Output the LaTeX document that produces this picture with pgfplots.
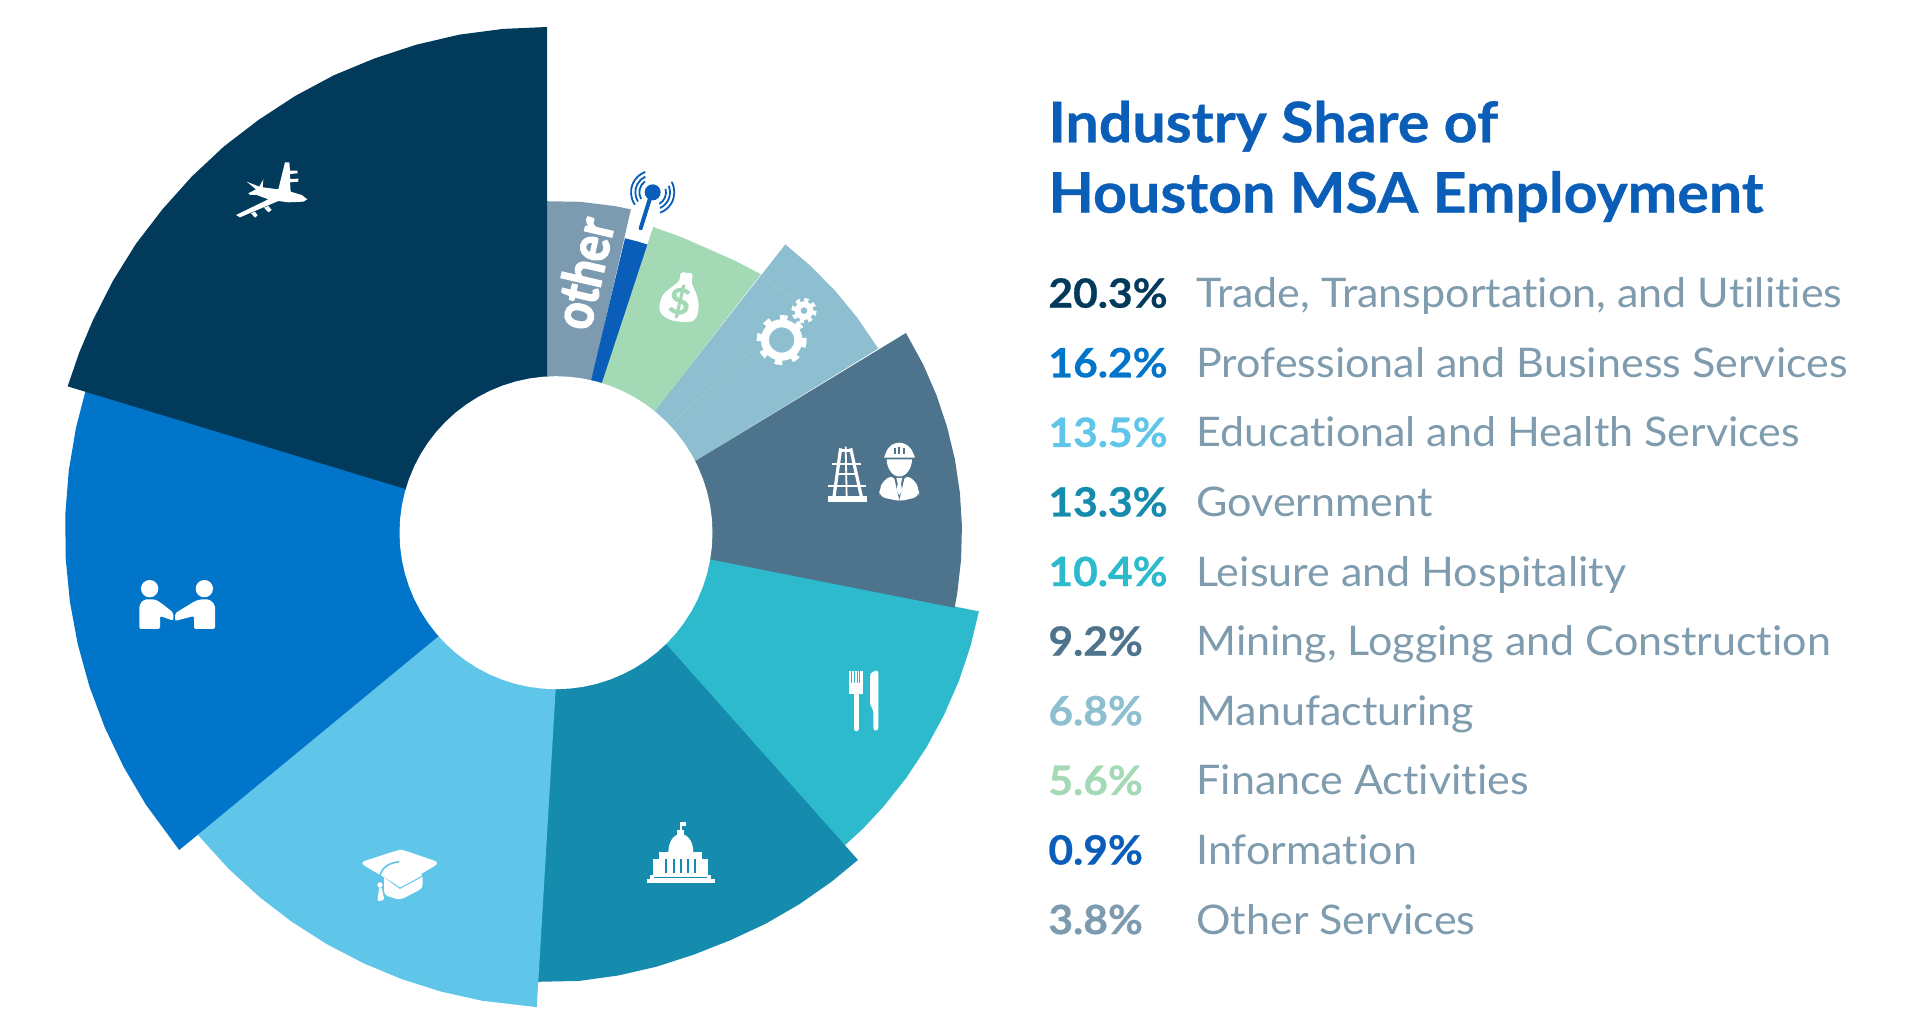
\documentclass[border=0pt]{standalone}
\usepackage{pgfplots}
\pgfplotsset{compat=1.18}
\usepackage{fontspec}
\setmainfont{Lato}[Ligatures=NoCommon,FakeStretch=1.055,BoldFeatures={FakeBold=0.6}]
\newfontfamily\heavyfont{Lato Bold}[FakeBold=3]
\definecolor{cNavy}{HTML}{023A5C}
\definecolor{cBlue}{HTML}{0075C9}
\definecolor{cLight}{HTML}{5FC6EA}
\definecolor{cTeal}{HTML}{158CAE}
\definecolor{cCyan}{HTML}{2EBACD}
\definecolor{cSlate}{HTML}{4D748C}
\definecolor{cMfg}{HTML}{8DBFD0}
\definecolor{cGreen}{HTML}{A3D9B5}
\definecolor{cInfo}{HTML}{0A5EBA}
\definecolor{cOther}{HTML}{7C9BB0}
\definecolor{cTitle}{HTML}{0A5EB8}
\definecolor{cLabel}{HTML}{7F9BAE}
\newcommand\slice[4]{\addplot[fill=#1,draw=none] table[row sep=\\,
  x expr={#2+\thisrow{r}*cos(\thisrow{a})},
  y expr={-#3+\thisrow{r}*sin(\thisrow{a})}] {#4};}
\newcommand\legrow[4]{%
  \node[anchor=base west,inner sep=0pt,text=#2,font=\fontsize{20.2}{24}\selectfont\bfseries] at (1048,#1) {#3};
  \node[anchor=base west,inner sep=0pt,text=cLabel,font=\fontsize{20.4}{24}\selectfont] at (1196,#1) {#4};}
\begin{document}
\begin{tikzpicture}
\useasboundingbox (0,0) rectangle (963.5pt,511.5pt);
\begin{axis}[scale only axis,width=963.5pt,height=511.5pt,hide axis,
  xmin=0,xmax=1927,ymin=-1023,ymax=0,clip=false]
\slice{cOther}{557}{532}{a r\\ 120 30\\ 92 331\\ 86 331\\ 80 331\\ 77.1 331\\ 0 0\\}
\slice{cInfo}{555}{532}{a r\\ 76.6 0\\ 76.6 302\\ 74 302\\ 71.8 302\\}
\slice{cMfg}{541}{556}{a r\\ 51.9 0\\ 51.9 396\\ 47 396\\ 42 396\\ 37 396\\ 31.6 396\\}
\slice{cGreen}{547}{550}{a r\\ 71.8 0\\ 71.8 340\\ 67 340.5\\ 62 341.5\\ 57 345\\ 52.2 349\\}
\slice{cCyan}{563}{529}{a r\\ -11.2 0\\ -11.2 424\\ -16 424\\ -21 424\\ -26 424\\ -31 424\\ -36 424\\ -41 424\\ -45 424\\ -50 424\\}
\slice{cSlate}{577}{533}{a r\\ 31.3 0\\ 31.3 385\\ 26 385\\ 21 385\\ 16 385\\ 11 385\\ 6 385\\ 1 385\\ -4 385\\ -9 385\\ -11.2 385\\}
\slice{cTeal}{548}{531}{a r\\ -43.8 165\\ -46.7 452\\ -51 451\\ -56 450\\ -61 449\\ -66 448\\ -71 448\\ -76 449\\ -81 450\\ -86 451\\ -91.4 451\\ 0 0\\}
\slice{cLight}{565}{532}{a r\\ 219.5 0\\ 219.5 476\\ 225 476\\ 230 476\\ 235 476\\ 240 476\\ 245 476\\ 250 476\\ 255 476\\ 260 476\\ 266.6 476\\}
\slice{cBlue}{565}{532}{a r\\ 163 0\\ 163 500\\ 168 500\\ 173 500\\ 178 500\\ 183 500\\ 188 500\\ 193 500\\ 198 500\\ 203 500\\ 208 500\\ 213 500\\ 219.5 500\\}
\slice{cNavy}{547}{532}{a r\\ 90 0\\ 90 505\\ 95 505\\ 100 505\\ 105 504.5\\ 110 504\\ 115 504\\ 120 503.5\\ 125 503\\ 130 503\\ 135 502.5\\ 140 502\\ 145 502\\ 150 501.5\\ 155 501\\ 159 501\\ 163.1 501\\}
\slice{white}{556}{532.7}{a r\\ 0 156.5\\ 5 156.5\\ 10 156.5\\ 15 156.5\\ 20 156.5\\ 25 156.5\\ 30 156.5\\ 35 156.5\\ 40 156.5\\ 45 156.5\\ 50 156.5\\ 55 156.5\\ 60 156.5\\ 65 156.5\\ 70 156.5\\ 75 156.5\\ 80 156.5\\ 85 156.5\\ 90 156.5\\ 95 156.5\\ 100 156.5\\ 105 156.5\\ 110 156.5\\ 115 156.5\\ 120 156.5\\ 125 156.5\\ 130 156.5\\ 135 156.5\\ 140 156.5\\ 145 156.5\\ 150 156.5\\ 155 156.5\\ 160 156.5\\ 165 156.5\\ 170 156.5\\ 175 156.5\\ 180 156.5\\ 185 156.5\\ 190 156.5\\ 195 156.5\\ 200 156.5\\ 205 156.5\\ 210 156.5\\ 215 156.5\\ 220 156.5\\ 225 156.5\\ 230 156.5\\ 235 156.5\\ 240 156.5\\ 245 156.5\\ 250 156.5\\ 255 156.5\\ 260 156.5\\ 265 156.5\\ 270 156.5\\ 275 156.5\\ 280 156.5\\ 285 156.5\\ 290 156.5\\ 295 156.5\\ 300 156.5\\ 305 156.5\\ 310 156.5\\ 315 156.5\\ 320 156.5\\ 325 156.5\\ 330 156.5\\ 335 156.5\\ 340 156.5\\ 345 156.5\\ 350 156.5\\ 355 156.5\\}
\end{axis}
\begin{scope}[x=0.5pt,y=-0.5pt,yshift=511.5pt]
% title
\node[anchor=base west,inner sep=0pt,text=cTitle,font=\fontsize{28}{30}\selectfont\bfseries] at (1048,142.3) {Industry Share of};
\node[anchor=base west,inner sep=0pt,text=cTitle,font=\fontsize{28}{30}\selectfont\bfseries] at (1048,212.7) {Houston MSA Employment};
% legend
\legrow{307.7}{cNavy}{20.3\%}{Trade, Transportation, and Utilities}
\legrow{377.3}{cBlue}{16.2\%}{Professional and Business Services}
\legrow{446.9}{cLight}{13.5\%}{Educational and Health Services}
\legrow{516.5}{cTeal}{13.3\%}{Government}
\legrow{586.1}{cCyan}{10.4\%}{Leisure and Hospitality}
\legrow{655.7}{cSlate}{9.2\%}{Mining, Logging and Construction}
\legrow{725.3}{cMfg}{6.8\%}{Manufacturing}
\legrow{794.9}{cGreen}{5.6\%}{Finance Activities}
\legrow{864.5}{cInfo}{0.9\%}{Information}
\legrow{934.1}{cOther}{3.8\%}{Other Services}
% other label
\node[rotate=77,text=white,inner sep=0pt,font=\fontsize{27}{30}\heavyfont] at (583,273) {\scalebox{0.86}[1]{other}};
% antenna, gears, bag: crop 1
\begin{scope}[shift={(520,140)},scale=0.33333]
\fill[cInfo] (398,157) circle (24);
\draw[cInfo,line width=2pt,line cap=round] (390,175) -- (362,265);
\draw[cInfo,line width=0.9pt] (398,157) ++(150:40) arc (150:235:40);
\draw[cInfo,line width=0.9pt] (398,157) ++(148:52) arc (148:245:52);
\draw[cInfo,line width=0.9pt] (398,157) ++(145:65) arc (145:250:65);
\draw[cInfo,line width=0.9pt] (398,157) ++(-15:40) arc (-15:60:40);
\draw[cInfo,line width=0.9pt] (398,157) ++(-22:52) arc (-22:65:52);
\draw[cInfo,line width=0.9pt] (398,157) ++(-29:65) arc (-29:70:65);
% money bag
\fill[white,rounded corners=3pt] (478,392) -- (500,402) -- (524,398) -- (510,422) -- (525,450) -- (538,490) -- (530,540) -- (500,548) -- (445,540) -- (415,515) -- (425,465) -- (485,418) -- cycle;
\node[rotate=-8,text=cGreen,inner sep=0pt,font=\fontsize{18}{20}\selectfont\bfseries] at (479,484) {\$};
% gears
\draw[white,line width=4pt] (785,600) circle (50);
\draw[white,line width=3pt,dash pattern=on 3.6pt off 4.9pt] (785,600) circle (66);
\fill[white] (852,512) circle (28);
\fill[cMfg] (852,512) circle (10);
\draw[white,line width=1.7pt,dash pattern=on 2.2pt off 2.1pt] (852,512) circle (33);
% faint lines in the manufacturing slice
\draw[cMfg!85!white,line width=0.3pt] (455,850) -- (705,622);
\draw[cMfg!85!white,line width=0.3pt] (722,405) -- (820,478);
\end{scope}
% airplane: crop 2
\begin{scope}[shift={(200,130)},scale=0.33333]
\fill[white] (145,190) -- (168,178) -- (140,155) -- (178,170) -- (190,148) -- (188,172) -- (235,178) -- (255,97) -- (268,97) -- (270,122) -- (292,122) -- (293,130) -- (270,132) -- (270,147) -- (295,146) -- (295,155) -- (270,157) -- (272,185) -- (305,195) -- (322,208) -- (310,215) -- (265,217) -- (235,213) -- (120,262) -- (108,255) -- (205,208) -- (170,195) -- (150,195) -- cycle;
\fill[white] (192,233) -- (205,228) -- (215,240) -- (205,247) -- cycle;
\fill[white] (153,250) -- (165,245) -- (173,256) -- (165,263) -- cycle;
\end{scope}
% handshake: crop 3
\begin{scope}[shift={(120,560)},scale=0.33333]
\fill[white] (89,86) circle (26);
\fill[white] (253,86) circle (26);
\fill[white,rounded corners=1pt] (58,207) -- (58,135) -- (72,118) -- (105,118) -- (122,128) -- (160,158) -- (160,182) -- (120,168) -- (120,207) -- cycle;
\fill[white,rounded corners=1pt] (285,207) -- (285,135) -- (268,118) -- (240,118) -- (222,125) -- (165,160) -- (165,183) -- (222,168) -- (222,207) -- cycle;
\end{scope}
% cap and capitol: crop 4
\begin{scope}[shift={(340,820)},scale=0.33333]
\fill[white,rounded corners=2pt] (132,165) -- (132,225) -- (180,240) -- (248,205) -- (248,160) -- cycle;
\draw[cLight,line width=0.5pt] (132,170) -- (180,205) -- (248,168);
\fill[white,rounded corners=3pt] (58,128) -- (175,90) -- (190,90) -- (300,128) -- (180,200) -- cycle;
\draw[cLight,line width=0.8pt] (178,125) .. controls (140,130) and (120,145) .. (115,190);
\fill[white] (120,195) circle (8);
\fill[white,rounded corners=1pt] (118,200) -- (125,200) -- (133,240) -- (112,244) -- cycle;
\fill[white] (920,178) rectangle (1125,190);
\fill[white] (930,165) rectangle (1112,178);
\fill[white] (938,118) rectangle (1105,165);
\fill[white] (958,96) rectangle (1086,116);
\fill[white] (985,98) .. controls (985,60) and (1005,42) .. (1022,42) .. controls (1040,42) and (1060,60) .. (1060,98) -- cycle;
\fill[white] (1012,30) rectangle (1032,45);
\fill[white] (1021,5) rectangle (1025,30);
\fill[white] (1025,5) rectangle (1038,17);
\fill[cTeal] (975,118) rectangle (981,158);
\fill[cTeal] (998,118) rectangle (1004,158);
\fill[cTeal] (1019,118) rectangle (1025,158);
\fill[cTeal] (1041,118) rectangle (1047,158);
\fill[cTeal] (1063,118) rectangle (1069,158);
\fill[cTeal] (942,172) rectangle (1102,175);
\end{scope}
% derrick, worker, fork and knife: crop 5
\begin{scope}[shift={(820,420)},scale=0.33333]
\fill[white] (24,228) rectangle (140,246);
\draw[white,line width=1.6pt] (62,85) -- (42,230);
\draw[white,line width=1.6pt] (92,85) -- (124,230);
\draw[white,line width=0.9pt] (77,80) -- (80,230);
\draw[white,line width=1.4pt] (36,132) -- (122,132);
\draw[white,line width=1pt] (50,162) -- (112,162);
\draw[white,line width=1.4pt] (25,198) -- (137,198);
\draw[white,line width=1.3pt] (60,92) -- (92,92);
% worker
\fill[white] (192,113) -- (285,113) -- (280,100) .. controls (270,75) and (250,68) .. (238,68) .. controls (225,68) and (205,75) .. (197,100) -- cycle;
\fill[cSlate] (222,85) rectangle (228,102);
\fill[cSlate] (235,82) rectangle (241,102);
\fill[cSlate] (250,85) rectangle (256,102);
\fill[white] (200,118) -- (276,118) .. controls (276,145) and (258,170) .. (238,170) .. controls (218,170) and (200,145) .. (200,118) -- cycle;
\fill[white,rounded corners=3pt] (178,210) -- (190,180) -- (222,165) -- (238,240) -- (254,165) -- (285,180) -- (297,210) -- (297,230) -- (240,244) -- (178,230) -- cycle;
\fill[cSlate] (222,170) -- (254,170) -- (238,240) -- cycle;
\fill[white] (229,174) -- (247,174) -- (243,190) -- (246,212) -- (238,226) -- (230,212) -- (233,190) -- cycle;
% fork
\fill[white] (87,752) rectangle (130,822);
\draw[white,line width=2.3pt,line cap=round] (109,820) -- (109,927);
\draw[cCyan,line width=0.35pt] (95,752) -- (95,790);
\draw[cCyan,line width=0.35pt] (103,752) -- (103,790);
\draw[cCyan,line width=0.35pt] (111,752) -- (111,790);
\draw[cCyan,line width=0.35pt] (119,752) -- (119,790);
% knife
\fill[white,rounded corners=1.5pt] (150,855) -- (150,770) .. controls (152,760) and (165,752) .. (175,750) -- (175,932) -- (160,932) -- (160,870) -- cycle;
\end{scope}
\end{scope}
\end{tikzpicture}
\end{document}
